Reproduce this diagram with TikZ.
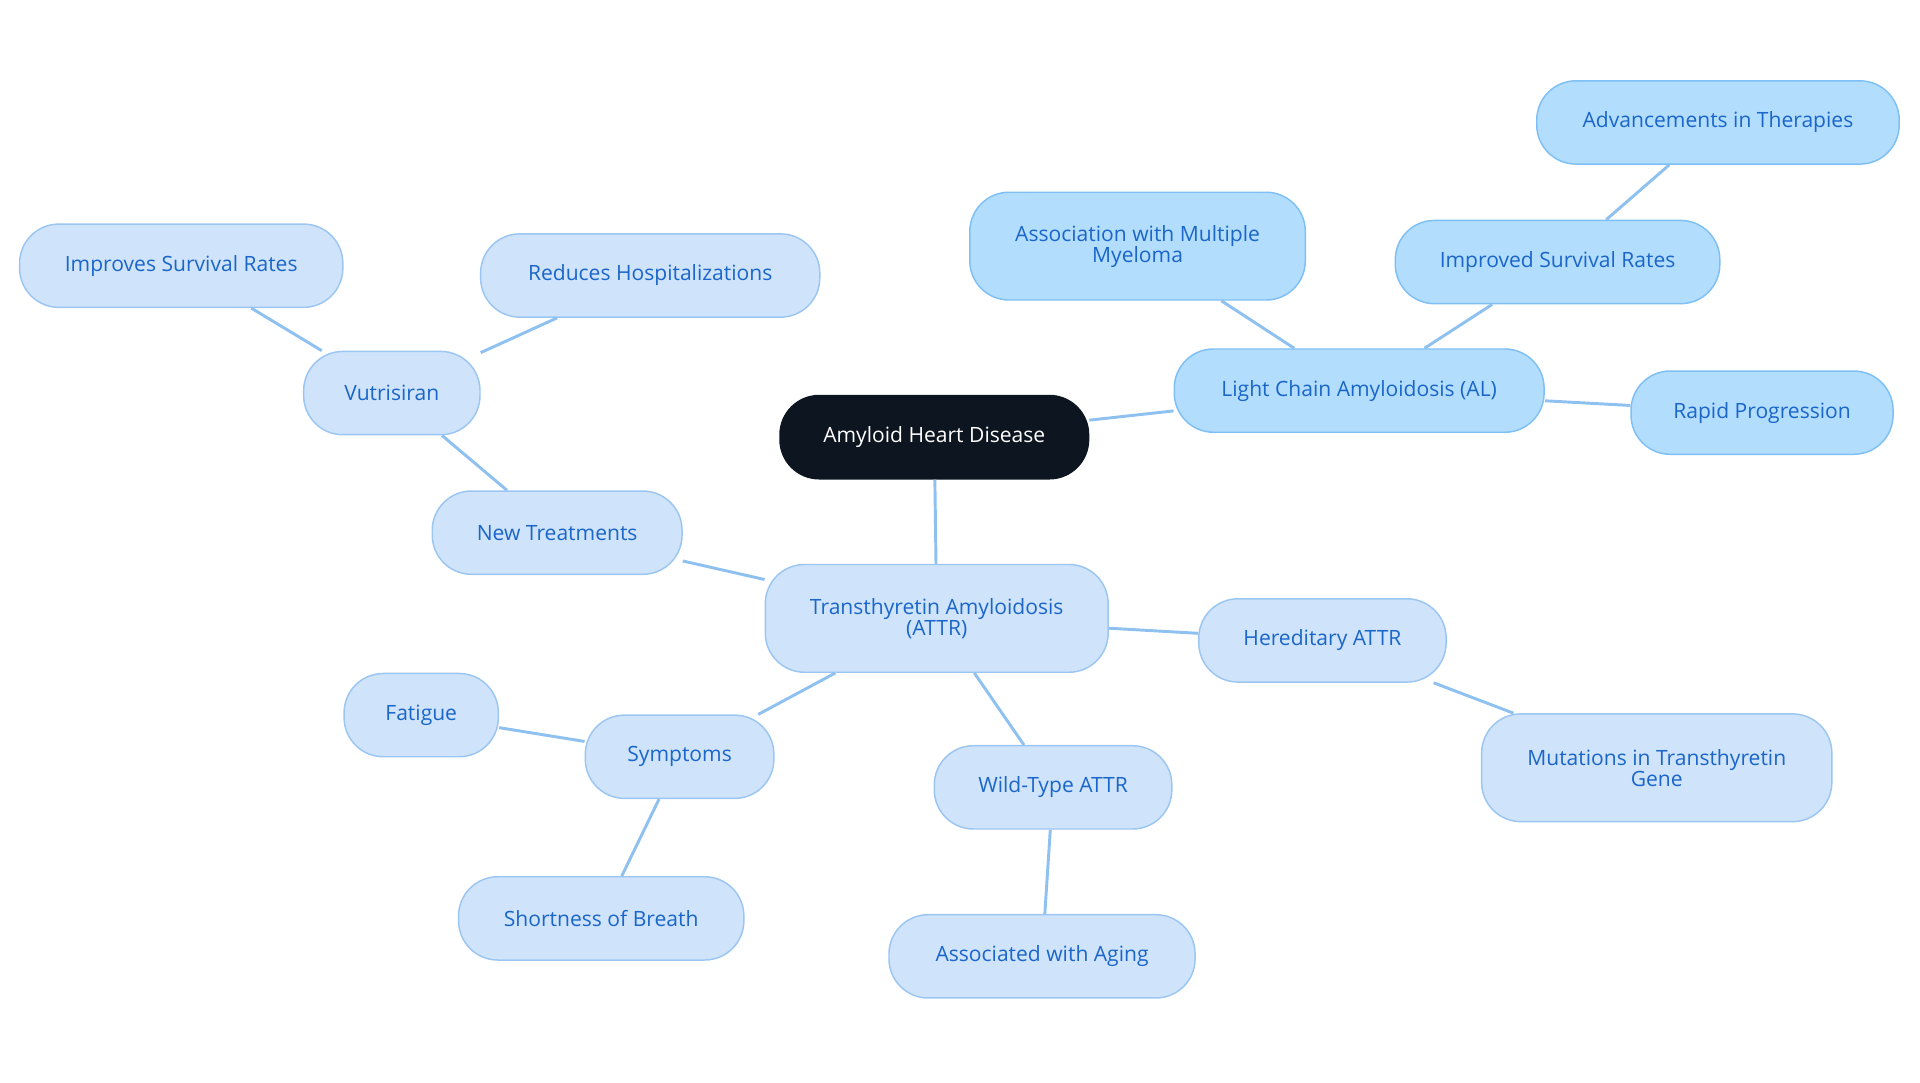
\documentclass[tikz,border=0pt]{standalone}
\usepackage{fontspec}
\setmainfont{Open Sans}
\definecolor{lf}{HTML}{CFE3FB}
\definecolor{lb}{HTML}{9CC6F2}
\definecolor{df}{HTML}{B3DDFD}
\definecolor{db}{HTML}{7EC0F5}
\definecolor{tx}{HTML}{1A66C9}
\definecolor{ln}{HTML}{8EC1F0}
\definecolor{rt}{HTML}{0D1520}
\begin{document}
\begin{tikzpicture}[x=0.5pt,y=-0.5pt,
  base/.style={rounded corners=16pt,inner sep=0pt,align=center,font=\fontsize{8.6}{8.6}\selectfont,line width=0.6pt},
  lnode/.style={base,fill=lf,draw=lb,text=tx},
  dnode/.style={base,fill=df,draw=db,text=tx},
  rnode/.style={base,fill=rt,draw=rt,text=white},
  conn/.style={draw=ln,line width=1.2pt}]
\useasboundingbox (0,0) rectangle (1568,884);
\newcommand{\nd}[7]{\node[#1,minimum width=#5*0.5pt,minimum height=#6*0.5pt] (#2) at (#3,#4) {#7};}
\nd{rnode}{root}{763}{357}{252}{68}{Amyloid Heart Disease}
\nd{lnode}{attr}{765}{505}{280}{88}{Transthyretin Amyloidosis\\(ATTR)}
\nd{dnode}{al}{1110}{319}{302}{68}{Light Chain Amyloidosis (AL)}
\nd{dnode}{mye}{929}{201}{274}{88}{Association with Multiple\\Myeloma}
\nd{dnode}{isr}{1272}{214}{265}{68}{Improved Survival Rates}
\nd{dnode}{adv}{1403}{100}{296}{68}{Advancements in Therapies}
\nd{dnode}{rap}{1439}{337}{214}{68}{Rapid Progression}
\nd{lnode}{newt}{455}{435}{204}{68}{New Treatments}
\nd{lnode}{vut}{320}{321}{144}{68}{Vutrisiran}
\nd{lnode}{imp}{148}{217}{264}{68}{Improves Survival Rates}
\nd{lnode}{red}{531}{225}{277}{68}{Reduces Hospitalizations}
\nd{lnode}{her}{1080}{523}{202}{68}{Hereditary ATTR}
\nd{lnode}{mut}{1353}{627}{286}{88}{Mutations in Transthyretin\\Gene}
\nd{lnode}{wild}{860}{643}{194}{68}{Wild-Type ATTR}
\nd{lnode}{age}{851}{781}{250}{68}{Associated with Aging}
\nd{lnode}{sym}{555}{618}{154}{68}{Symptoms}
\nd{lnode}{fat}{344}{584}{126}{68}{Fatigue}
\nd{lnode}{sob}{491}{750}{233}{68}{Shortness of Breath}
\begin{scope}[on background layer/.style={}]
\end{scope}
\foreach \a/\b in {root/attr,root/al,al/mye,al/isr,isr/adv,al/rap,attr/newt,newt/vut,vut/imp,vut/red,attr/her,her/mut,attr/wild,wild/age,attr/sym,sym/fat,sym/sob}
  \draw[conn] (\a) -- (\b);
\end{tikzpicture}
\end{document}
